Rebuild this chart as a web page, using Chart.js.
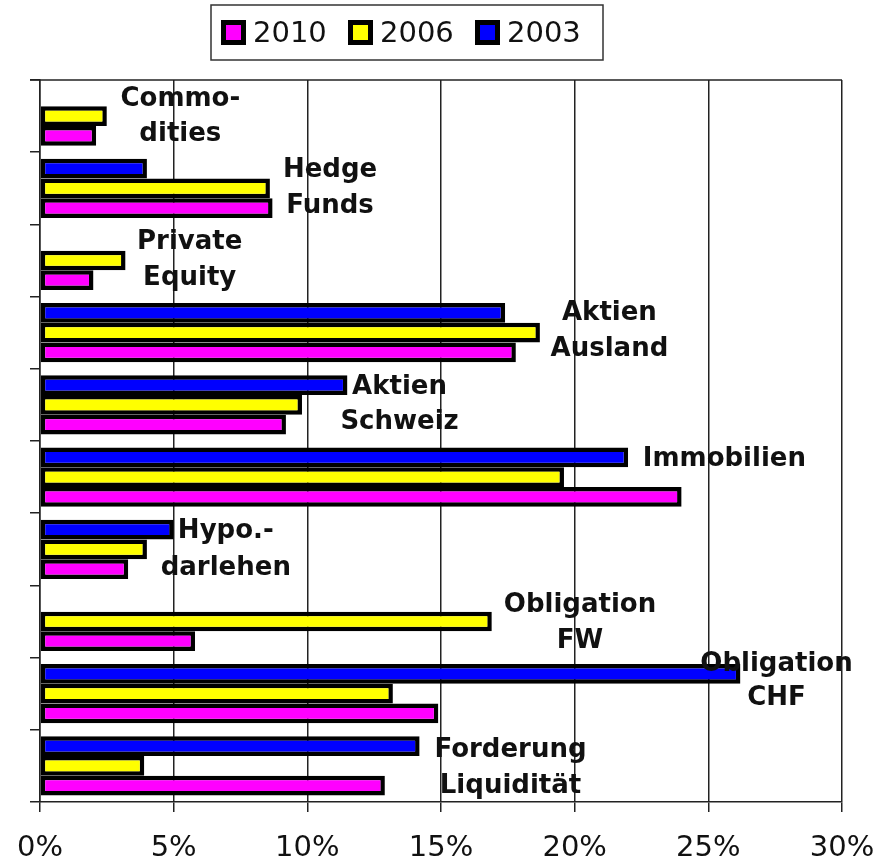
<!DOCTYPE html>
<html>
<head>
<meta charset="utf-8">
<script src="https://cdn.jsdelivr.net/npm/chart.js@4"></script>
<style>
  html, body { margin: 0; padding: 0; background: #fff; }
  #wrap { width: 882px; height: 864px; position: relative; }
</style>
</head>
<body>
<div id="wrap"><canvas id="allocChart"></canvas></div>
<script>
/* ── DATA ── */
const categories = [
  ["Commo-", "dities"],
  ["Hedge", "Funds"],
  ["Private", "Equity"],
  ["Aktien", "Ausland"],
  ["Aktien", "Schweiz"],
  ["Immobilien"],
  ["Hypo.-", "darlehen"],
  ["Obligation", "FW"],
  ["Obligation", "CHF"],
  ["Forderung", "Liquidität"]
];
const years = ["2003", "2006", "2010"];
const values2003 = [null, 4.0, 0, 17.4, 11.5, 22.0, 5.0, null, 26.2, 14.2];
const values2006 = [2.5, 8.6, 3.2, 18.7, 9.8, 19.6, 4.0, 16.9, 13.2, 3.9];
const values2010 = [2.1, 8.7, 2.0, 17.8, 9.2, 24.0, 3.3, 5.8, 14.9, 12.9];
const xTicks = [0, 5, 10, 15, 20, 25, 30];

// where each category caption sits (x in %, line offsets in px from the category centre)
const captionX = [5.25, 10.85, 5.6, 21.3, 13.45, 25.6, 6.95, 20.2, 27.55, 17.6];
const captionDy = [[-17, 18], [-18, 18], [-18, 18], [-19, 17], [-18, 17], [-18], [-18, 19], [-16, 20], [-29, 5], [-16, 20]];

const colors = { "2003": "#0000ff", "2006": "#ffff00", "2010": "#ff00ff" };
const ink = "#111";

/* ── PLUGIN: frame, captions, legend ── */
const decor = {
  id: "decor",
  afterDatasetsDraw(chart) {
    const { ctx, chartArea: a, scales } = chart;
    ctx.save();
    // top frame line
    ctx.strokeStyle = "#222"; ctx.lineWidth = 1.5;
    ctx.beginPath(); ctx.moveTo(a.left - 10, a.top); ctx.lineTo(a.right, a.top); ctx.stroke();

    // captions next to the bars
    ctx.fillStyle = ink;
    ctx.font = "bold 26px 'DejaVu Sans', Verdana, sans-serif";
    ctx.textAlign = "center"; ctx.textBaseline = "middle";
    categories.forEach((lines, i) => {
      const cx = scales.x.getPixelForValue(captionX[i]);
      const cy = scales.y.getPixelForValue(i);
      lines.forEach((t, j) => ctx.fillText(t, cx, cy + captionDy[i][j]));
    });

    // legend box
    ctx.strokeStyle = "#333"; ctx.lineWidth = 1.5;
    ctx.strokeRect(211, 5, 392, 55);
    ctx.font = "29px 'DejaVu Sans', Verdana, sans-serif";
    ctx.textAlign = "left";
    let x = 221;
    [...years].reverse().forEach(y => {
      ctx.fillStyle = "#000"; ctx.fillRect(x, 20, 25, 25);
      ctx.fillStyle = colors[y]; ctx.fillRect(x + 5, 25, 15, 15);
      ctx.fillStyle = ink; ctx.fillText(y, x + 32, 34);
      x += 127;
    });
    ctx.restore();
  }
};

/* ── CHART ── */
const series = [values2003, values2006, values2010];
new Chart(document.getElementById("allocChart"), {
  type: "bar",
  data: {
    labels: categories.map(c => c.join(" ")),
    datasets: years.map((y, k) => ({
      label: y,
      data: series[k],
      backgroundColor: colors[y],
      borderColor: "#000",
      borderWidth: 4.5,
      borderSkipped: false,
      categoryPercentage: 0.82,
      barPercentage: 1
    }))
  },
  options: {
    indexAxis: "y",
    responsive: true, maintainAspectRatio: false,
    animation: false,
    layout: { autoPadding: false, padding: { top: 80, right: 40, left: 0, bottom: 0 } },
    plugins: { legend: { display: false }, tooltip: { enabled: false } },
    scales: {
      x: {
        min: 0, max: 30,
        afterBuildTicks: s => { s.ticks = xTicks.map(v => ({ value: v })); },
        afterFit: s => { s.height = 62; s.paddingLeft = 0; s.paddingRight = 0; },
        grid: { color: "#222", lineWidth: 1.5, tickLength: 10, tickColor: "#222" },
        border: { color: "#222", width: 1.5 },
        ticks: { callback: v => v + "%", color: ink, padding: 19, maxRotation: 0,
                 font: { size: 29, family: "'DejaVu Sans', Verdana, sans-serif" } }
      },
      y: {
        afterFit: s => { s.width = 40; s.paddingTop = 0; s.paddingBottom = 0; },
        grid: { offset: true, drawOnChartArea: false, tickLength: 10, color: "#222", lineWidth: 1.5 },
        border: { color: "#222", width: 1.5 },
        ticks: { display: false }
      }
    }
  },
  plugins: [decor]
});
</script>
</body>
</html>
